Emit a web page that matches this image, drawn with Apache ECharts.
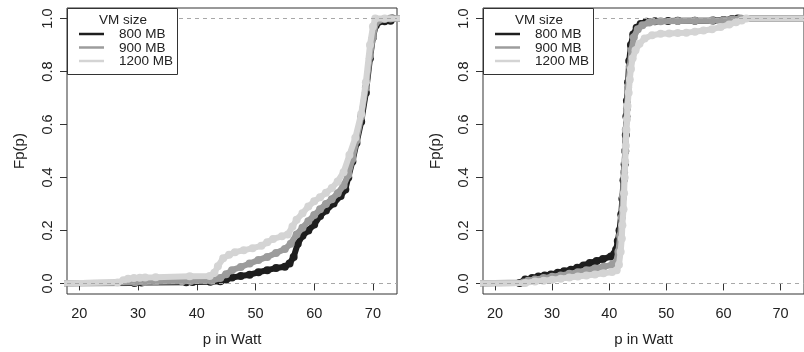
<!DOCTYPE html>
<html><head><meta charset="utf-8">
<script src="https://cdn.jsdelivr.net/npm/echarts@6/dist/echarts.min.js"></script>
<style>html,body{margin:0;padding:0;background:#fff}#c{width:804px;height:352px}</style>
</head><body><div id="c"></div>
<script>
const seriesNames = ['800 MB', '900 MB', '1200 MB'];
const seriesColors = ['#1e1e1e', '#9c9c9c', '#d4d4d4'];
const legendTitle = 'VM size';
const xTicks = [20, 30, 40, 50, 60, 70];
const yTicks = [0, 0.2, 0.4, 0.6, 0.8, 1.0];
const xTitle = 'p in Watt';
const yTitle = 'Fp(p)';

// Left panel
const left800 = [[15,0],[29.4,0.002],[30.6,0.003],[38.2,0.004],[39.3,0.005],[42.3,0.006],[44.0,0.008],[45.0,0.015],[46.0,0.022],[47.5,0.028],[49.0,0.033],[50.5,0.042],[52.0,0.05],[53.5,0.058],[55.0,0.063],[55.8,0.075],[56.5,0.1],[57.2,0.15],[58.0,0.18],[59.0,0.2],[60.0,0.222],[61.0,0.255],[62.0,0.275],[63.3,0.302],[64.5,0.33],[65.3,0.355],[65.8,0.4],[66.5,0.46],[67.2,0.53],[68.0,0.61],[68.8,0.72],[69.5,0.85],[70.0,0.93],[70.5,0.975],[71.0,0.988],[72.0,0.99],[73.0,0.992],[73.3,1.0],[80,1]];
const left900 = [[15,0],[29.5,0.004],[31.0,0.005],[33.0,0.006],[37.5,0.008],[39.0,0.009],[42.5,0.01],[44.0,0.02],[45.0,0.035],[46.0,0.05],[47.5,0.062],[49.0,0.075],[50.5,0.088],[52.0,0.1],[53.5,0.115],[55.0,0.13],[56.0,0.15],[57.0,0.185],[58.0,0.21],[59.0,0.235],[60.0,0.258],[61.0,0.28],[62.0,0.3],[63.0,0.318],[64.0,0.34],[65.0,0.37],[65.8,0.41],[66.5,0.47],[67.2,0.54],[68.0,0.63],[68.8,0.74],[69.5,0.86],[70.0,0.93],[70.5,0.985],[71.0,0.995],[72.0,0.998],[73.0,1.0],[80,1]];
const left1200 = [[15,0],[26.5,0.003],[27.5,0.012],[28.3,0.018],[29.3,0.02],[30.3,0.021],[31.2,0.022],[33.0,0.023],[38.8,0.027],[42.2,0.028],[43.0,0.04],[43.6,0.065],[44.5,0.095],[45.5,0.108],[46.5,0.118],[48.0,0.125],[49.5,0.133],[51.0,0.142],[52.0,0.155],[53.0,0.168],[54.5,0.178],[55.5,0.185],[56.3,0.215],[57.0,0.24],[58.0,0.265],[59.0,0.29],[60.0,0.31],[61.0,0.325],[62.0,0.342],[63.0,0.36],[64.0,0.385],[65.0,0.42],[66.0,0.485],[67.0,0.55],[68.0,0.64],[68.8,0.76],[69.5,0.9],[70.0,0.97],[70.4,1.0],[72.0,1.0],[80,1]];

// Right panel
const right800 = [[15,0],[24.3,0.002],[25.3,0.015],[26.5,0.02],[27.6,0.026],[28.7,0.03],[29.8,0.034],[31,0.04],[32.1,0.046],[33.3,0.052],[34.4,0.059],[35.5,0.068],[36.6,0.077],[37.8,0.085],[38.9,0.092],[40.3,0.102],[40.9,0.112],[41.2,0.127],[41.5,0.16],[41.8,0.2],[42.1,0.26],[42.3,0.32],[42.5,0.39],[42.7,0.45],[42.8,0.5],[42.9,0.56],[43.0,0.63],[43.1,0.69],[43.3,0.76],[43.5,0.84],[43.8,0.9],[44.2,0.94],[44.8,0.965],[45.5,0.98],[46.5,0.988],[48,0.99],[50.3,0.991],[52,0.992],[55,0.992],[58.2,0.993],[60,0.995],[61.5,0.998],[62.5,1.0],[80,1]];
const right900 = [[15,0],[25,0.003],[25.8,0.01],[27,0.015],[28.5,0.02],[30,0.025],[31.5,0.03],[33,0.036],[34.5,0.042],[36,0.05],[37.5,0.056],[39,0.063],[40.5,0.07],[41.2,0.08],[41.6,0.12],[41.9,0.18],[42.2,0.25],[42.4,0.33],[42.6,0.42],[42.8,0.5],[42.9,0.58],[43.1,0.66],[43.3,0.74],[43.6,0.82],[43.9,0.88],[44.3,0.93],[45,0.96],[45.8,0.975],[47,0.985],[49,0.99],[52,0.991],[55,0.992],[58,0.993],[60,0.994],[61.5,0.997],[63,1.0],[80,1]];
const right1200 = [[15,0],[25.3,0.002],[27,0.007],[28.5,0.01],[30,0.014],[31.5,0.018],[33,0.022],[34.5,0.026],[36,0.03],[37.5,0.034],[39,0.038],[40.5,0.043],[41.3,0.05],[41.7,0.07],[42.0,0.12],[42.2,0.17],[42.3,0.22],[42.5,0.28],[42.6,0.34],[42.7,0.4],[42.8,0.46],[42.9,0.52],[43.0,0.58],[43.1,0.62],[43.2,0.67],[43.4,0.72],[43.6,0.77],[43.8,0.81],[44.1,0.85],[44.6,0.88],[45.3,0.905],[46.2,0.925],[47.5,0.937],[49,0.943],[50.5,0.944],[52,0.946],[53.5,0.947],[55,0.95],[56.5,0.955],[58,0.96],[59.5,0.968],[61,0.978],[62.2,0.986],[63.2,0.993],[64,1.0],[80,1]];

const panels = [[left800, left900, left1200], [right800, right900, right1200]];

const FONT = 'Liberation Sans, Arial, sans-serif';
const gridLefts = [67, 483];
const chart = echarts.init(document.getElementById('c'), null, {renderer: 'canvas'});

const grids = [], xAxes = [], yAxes = [], series = [], graphics = [];
gridLefts.forEach((gl, p) => {
  grids.push({left: gl, top: 8, width: 330, height: 288, show: true, borderColor: '#333', borderWidth: 1, backgroundColor: 'transparent', containLabel: false});
  xAxes.push({
    gridIndex: p, type: 'value', min: 17.9, max: 74.1,
    axisLine: {show: false}, splitLine: {show: false},
    axisTick: {show: true, customValues: xTicks, length: 7, lineStyle: {color: '#333'}},
    axisLabel: {customValues: xTicks, fontSize: 14.5, color: '#222', margin: 12, fontFamily: FONT},
    name: xTitle, nameLocation: 'middle', nameGap: 38,
    nameTextStyle: {fontSize: 15, color: '#222', fontFamily: FONT}
  });
  yAxes.push({
    gridIndex: p, type: 'value', min: -0.04, max: 1.04,
    axisLine: {show: false}, splitLine: {show: false},
    axisTick: {show: true, customValues: yTicks, length: 7, lineStyle: {color: '#333'}},
    axisLabel: {customValues: yTicks, rotate: 90, fontSize: 14.5, color: '#222', margin: 12, fontFamily: FONT,
      formatter: v => v.toFixed(1)},
    name: yTitle, nameLocation: 'middle', nameGap: 40, nameRotate: 90,
    nameTextStyle: {fontSize: 15, color: '#222', fontFamily: FONT}
  });
  panels[p].forEach((d, i) => {
    const s = {
      name: seriesNames[i], type: 'line', xAxisIndex: p, yAxisIndex: p,
      data: d, symbol: 'circle', symbolSize: 8, showSymbol: true, clip: true,
      lineStyle: {color: seriesColors[i], width: 6},
      itemStyle: {color: seriesColors[i]},
      z: 2 + i, animation: false, silent: true
    };
    if (i === 2) {
      s.markLine = {silent: true, symbol: 'none', z: 10, animation: false,
        lineStyle: {type: [4, 4], color: '#a8a8a8', width: 1},
        label: {show: false},
        data: [{yAxis: 0}, {yAxis: 1}]};
    }
    series.push(s);
  });
  // legend box
  const ox = gl;
  graphics.push({type: 'rect', z: 100, shape: {x: ox + 0.5, y: 8.5, width: 110, height: 66},
    style: {fill: '#fff', stroke: '#333', lineWidth: 1}});
  graphics.push({type: 'text', z: 101, x: ox + 56, y: 20,
    style: {text: legendTitle, font: '13.5px ' + FONT, fill: '#222', align: 'center', verticalAlign: 'middle'}});
  const ys = [34, 47.5, 61];
  seriesNames.forEach((nm, i) => {
    graphics.push({type: 'line', z: 101, shape: {x1: ox + 12, y1: ys[i], x2: ox + 37, y2: ys[i]},
      style: {stroke: seriesColors[i], lineWidth: 2.5}});
    graphics.push({type: 'text', z: 101, x: ox + 52, y: ys[i] + 0.5,
      style: {text: nm, font: '13.5px ' + FONT, fill: '#222', align: 'left', verticalAlign: 'middle'}});
  });
});

chart.setOption({
  animation: false,
  backgroundColor: '#fff',
  grid: grids, xAxis: xAxes, yAxis: yAxes, series: series, graphic: graphics
});
</script></body></html>
